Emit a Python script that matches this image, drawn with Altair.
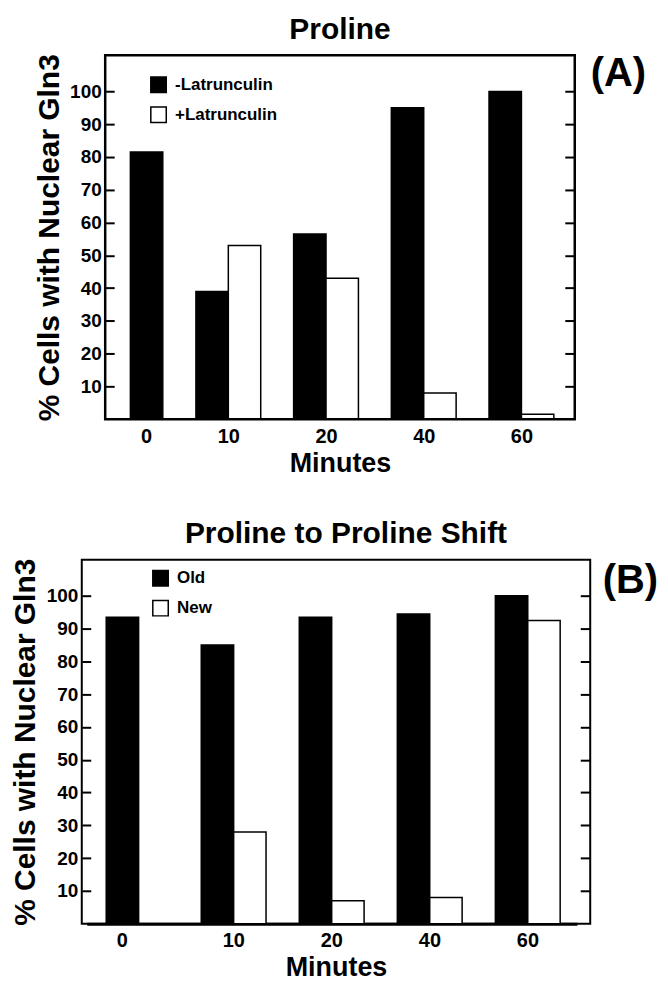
import altair as alt
import pandas as pd

FONT = "Liberation Sans"

minutes = ["0", "10", "20", "40", "60"]
y_ticks = [10, 20, 30, 40, 50, 60, 70, 80, 90, 100]

a_series = ["-Latrunculin", "+Latrunculin"]
a_minus = [81.5, 39, 56.5, 95, 100]
a_plus = [None, 53, 43, 8, 1.5]

b_series = ["Old", "New"]
b_old = [93.5, 85, 93.5, 94.5, 100]
b_new = [None, 28, 7, 8, 92.5]

titles = ["Proline", "Proline to Proline Shift"]
tags = ["(A)", "(B)"]
y_title = "% Cells with Nuclear Gln3"
x_title = "Minutes"

H = 365


def panel(series_names, s1, s2, title, tag, lead, plot_w, xrange, offset_range, single_shift,
          legend_x, legend_y, tag_x, tag_y, title_dx, title_y, own_frame):
    paired_rows, single_rows = [], []
    for m, v1, v2 in zip(minutes, s1, s2):
        if v2 is None:
            single_rows.append({"Minutes": m, "Series": series_names[0], "Value": v1})
        else:
            paired_rows.append({"Minutes": m, "Series": series_names[0], "Value": v1})
            paired_rows.append({"Minutes": m, "Series": series_names[1], "Value": v2})
    paired = pd.DataFrame(paired_rows)
    single = pd.DataFrame(single_rows)
    total_w = lead + plot_w

    x_enc = alt.X(
        "Minutes:N",
        sort=minutes,
        scale=alt.Scale(domain=minutes, range=[xrange[0] + lead, xrange[1] + lead],
                        paddingInner=0, paddingOuter=0),
        axis=alt.Axis(
            orient="bottom", ticks=False, domain=not own_frame, domainWidth=3, domainColor="black",
            labelAngle=0, labelFont=FONT, labelFontSize=20, labelFontWeight="bold",
            labelColor="black", labelPadding=7,
            labelOffset=alt.condition("datum.value == '0'", alt.value(single_shift), alt.value(0)),
            title=x_title, titleFont=FONT, titleFontSize=27, titleFontWeight="bold",
            titleColor="black", titlePadding=4, grid=False,
            titleX=lead + plot_w / 2, titleAlign="center",
        ),
    )
    y_scale = alt.Scale(domain=[0, 111], nice=False)

    bars = alt.Chart(paired).mark_bar(stroke="black", strokeWidth=1.5).encode(
        x=x_enc,
        xOffset=alt.XOffset("Series:N", sort=series_names,
                            scale=alt.Scale(domain=series_names, range=offset_range,
                                            paddingInner=0, paddingOuter=0)),
        y=alt.Y("Value:Q", scale=y_scale,
                axis=alt.Axis(orient="left", values=y_ticks, offset=-(lead + 9), tickSize=9,
                              tickWidth=2, tickColor="black", domain=False, grid=False,
                              labelFont=FONT, labelFontSize=19, labelFontWeight="bold",
                              labelColor="black", labelPadding=4,
                              title=y_title, titleFont=FONT, titleFontSize=30,
                              titleFontWeight="bold", titleColor="black", titlePadding=5.5)),
        fill=alt.Fill("Series:N", sort=series_names,
                      scale=alt.Scale(domain=series_names, range=["black", "white"]),
                      legend=alt.Legend(title=None, orient="none", legendX=lead + legend_x,
                                        legendY=legend_y, symbolType="square", symbolSize=240,
                                        symbolStrokeColor="black", symbolStrokeWidth=1.5,
                                        labelFont=FONT, labelFontSize=17, labelFontWeight="bold",
                                        labelColor="black", labelOffset=8, rowPadding=7, padding=0)),
    )

    single_bar = alt.Chart(single).mark_bar(
        size=32.5, xOffset=single_shift, fill="black", stroke="black", strokeWidth=1.5
    ).encode(
        x=x_enc,
        y=alt.Y("Value:Q", scale=y_scale,
                axis=alt.Axis(orient="right", values=y_ticks, offset=-10, tickSize=10, tickWidth=2,
                              tickColor="black", domain=False, grid=False, labels=False, title=None)),
    )

    text_df = pd.DataFrame({"tag": [tag], "title": [title]})
    tag_text = alt.Chart(text_df).mark_text(
        align="left", baseline="alphabetic", font=FONT, fontSize=40, fontWeight="bold", color="black"
    ).encode(text="tag:N", x=alt.value(lead + tag_x), y=alt.value(tag_y))

    title_text = alt.Chart(text_df).mark_text(
        align="center", baseline="alphabetic", font=FONT, fontSize=30, fontWeight="bold", color="black"
    ).encode(text="title:N", x=alt.value(lead + plot_w / 2 + title_dx), y=alt.value(title_y))

    layers = [bars, single_bar, tag_text, title_text]
    if own_frame:
        frame = alt.Chart(text_df).mark_rect(
            filled=False, stroke="black", strokeWidth=2.5
        ).encode(x=alt.value(lead), x2=alt.value(total_w), y=alt.value(0), y2=alt.value(H))
        layers.append(frame)

    chart = alt.layer(*layers).resolve_axis(y="independent").properties(width=total_w, height=H)
    if own_frame:
        chart = chart.properties(view=alt.ViewBackground(stroke=None))
    return chart


panel_a = panel(a_series, a_minus, a_plus, titles[0], tags[0], 23.5, 471, [-23, 467], [16, 81], 15.5,
                45, 21, 487, 31, 0, -16.5, True)
panel_b = panel(b_series, b_old, b_new, titles[1], tags[1], 0, 510, [5, 496.7], [16.5, 81.5], -13.4,
                70.5, 10, 522.5, 33, 10, -17, False)

chart = alt.vconcat(panel_a, panel_b, spacing=42).resolve_scale(
    x="independent", y="independent", xOffset="independent", fill="independent"
).resolve_legend(fill="independent").configure(
    font=FONT, padding={"left": 1, "top": 5, "right": 0, "bottom": 0}
).configure_view(
    stroke="black", strokeWidth=2
)

chart.save("out.html", embed_options={"renderer": "svg", "actions": False})
